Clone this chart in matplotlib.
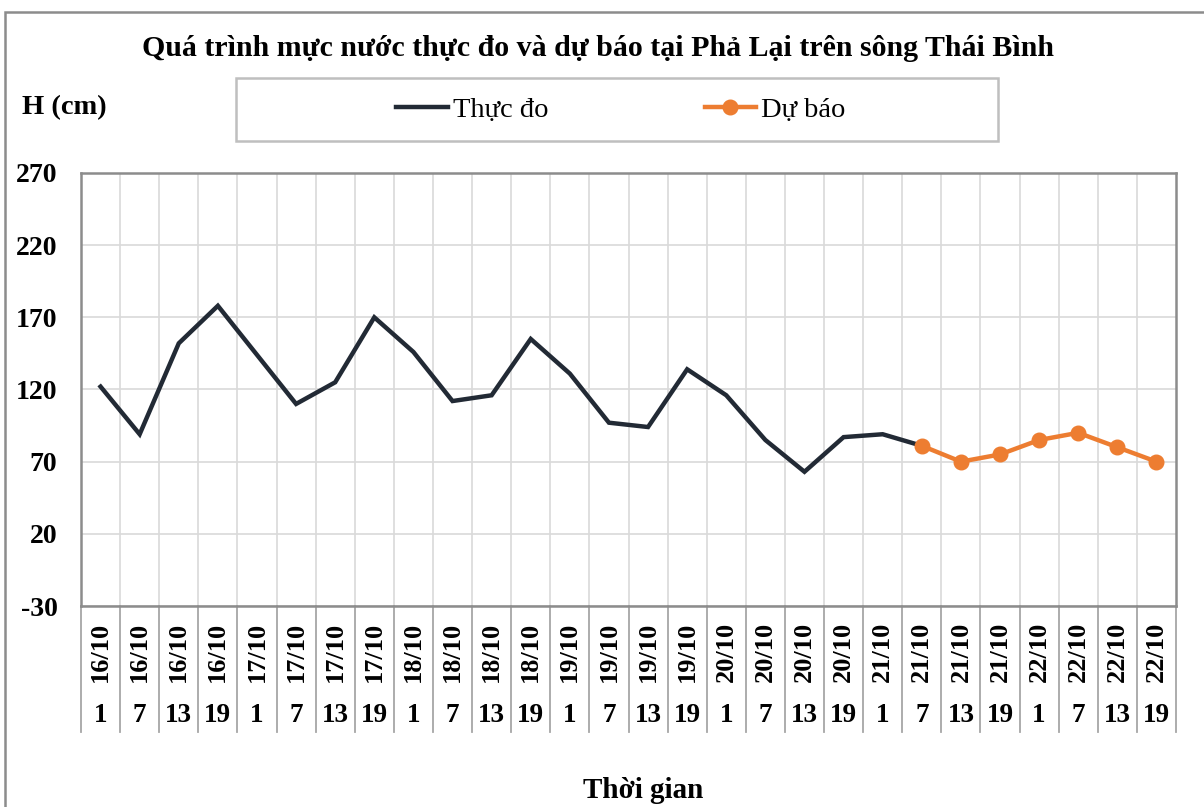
"""
Muc nuoc thuc do va du bao tai Pha Lai tren song Thai Binh
"""

import matplotlib
matplotlib.use("Agg")
import matplotlib.pyplot as plt
from matplotlib.patches import Rectangle
import numpy as np


# Data
dates = ["16/10"] * 4 + ["17/10"] * 4 + ["18/10"] * 4 + ["19/10"] * 4 + \
        ["20/10"] * 4 + ["21/10"] * 4 + ["22/10"] * 4
hours = ["1", "7", "13", "19"] * 7

thuc_do = [122, 89, 152, 178, 144, 110, 125, 170, 146, 112, 116, 155, 131, 97,
           94, 134, 116, 85, 63, 87, 89, 81]
du_bao = [81, 70, 75, 85, 90, 80, 70]

y_ticks = [-30, 20, 70, 120, 170, 220, 270]

plt.rcParams["font.family"] = ["Liberation Serif", "DejaVu Serif"]

dark = "#222a35"
orange = "#ed7d31"

fig = plt.figure(figsize=(12.04, 8.07), dpi=100, facecolor="white")
ax = fig.add_axes([81 / 1204, 1 - 606 / 807, 1095 / 1204, 433 / 807])

n = len(dates)
x_obs = np.arange(len(thuc_do))
x_fc = np.arange(n - len(du_bao), n)

ax.plot(x_obs, thuc_do, color=dark, linewidth=3.2, solid_joinstyle="miter", zorder=3, label="Thực đo")
ax.plot(x_fc, du_bao, color=orange, linewidth=3.2, marker="o", markersize=10.5, zorder=4, label="Dự báo")

ax.set_xlim(-0.5, n - 0.5)
ax.set_ylim(-30, 270)
ax.set_yticks(y_ticks)
ax.set_yticklabels([str(v) for v in y_ticks], fontsize=20, fontweight="bold")
ax.tick_params(axis="y", length=0, pad=17)
ax.set_xticks([])

# Gridlines
for v in y_ticks:
    ax.axhline(v, color="#d9d9d9", linewidth=1.2, zorder=1)
for b in np.arange(0.5, n - 0.5, 1):
    ax.axvline(b, color="#d9d9d9", linewidth=1.2, zorder=1)

for s in ax.spines.values():
    s.set_color("#8c8c8c")
    s.set_linewidth(1.8)

# Two-level category axis
trans = ax.get_xaxis_transform()
for b in np.arange(-0.5, n, 1):
    ax.plot([b, b], [0, -0.291], transform=trans, color="#a6a6a6", linewidth=1.3, clip_on=False)
for i in range(n):
    ax.text(i, -0.107, dates[i], transform=trans, rotation=90, ha="center", va="center",
            fontsize=19, fontweight="bold")
    ax.text(i, -0.254, hours[i], transform=trans, ha="center", va="center",
            fontsize=19.5, fontweight="bold")

# Texts
fig.text(0.497, 1 - 48 / 807, "Quá trình mực nước thực đo và dự báo tại Phả Lại trên sông Thái Bình",
         ha="center", va="center", fontsize=21.5, fontweight="bold")
fig.text(22 / 1204, 1 - 108 / 807, "H (cm)", ha="left", va="center", fontsize=20.5, fontweight="bold")
fig.text(643 / 1204, 1 - 790 / 807, "Thời gian", ha="center", va="center", fontsize=21, fontweight="bold")

# Legend
fig.add_artist(Rectangle((236 / 1204, 1 - 141 / 807), 762 / 1204, 63 / 807, transform=fig.transFigure,
                         facecolor="white", edgecolor="#bfbfbf", linewidth=1.8))
leg = fig.legend(loc="center", bbox_to_anchor=(621 / 1204, 1 - 110 / 807), ncol=2, frameon=False,
                 fontsize=20.5, handlelength=1.8, handletextpad=0.18, columnspacing=5.5)

# Outer border
fig.add_artist(Rectangle((5 / 1204, -0.1), 1.2, 0.1 + 1 - 12 / 807, transform=fig.transFigure,
                         facecolor="none", edgecolor="#8c8c8c", linewidth=1.8))

fig.savefig("out.png", dpi=100, facecolor="white")
